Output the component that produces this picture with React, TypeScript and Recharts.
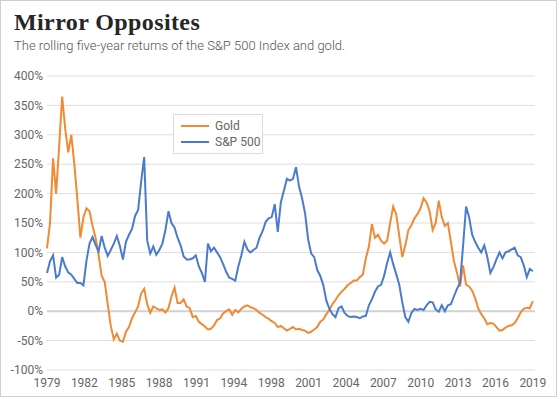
import { LineChart, Line, XAxis, YAxis, CartesianGrid, ReferenceLine } from 'recharts';

// quarterly steps from the 1979 tick to the 2019 tick, rolling 5-yr return in %
const GOLD = [
  107, 150, 260, 200, 280, 365, 310, 270, 300, 250,
  190, 125, 160, 175, 170, 145, 125, 95, 60, 50,
  12, -25, -48, -38, -50, -52, -35, -27, -12, -2,
  8, 30, 38, 12, -3, 8, 5, 2, 3, -2,
  5, 25, 40, 14, 14, 20, 8, 5, -10, -8,
  -18, -22, -26, -31, -30, -24, -15, -12, -4, 0,
  3, -6, 2, -2, 4, 8, 10, 7, 5, 2,
  -3, -6, -10, -13, -17, -20, -27, -25, -29, -33,
  -30, -27, -31, -30, -32, -33, -37, -35, -31, -27,
  -18, -14, -5, 2, 12, 19, 27, 33, 38, 44,
  48, 52, 52, 58, 62, 90, 110, 148, 125, 130,
  120, 115, 120, 150, 178, 165, 128, 92, 112, 138,
  146, 158, 165, 175, 192, 185, 170, 138, 150, 188,
  160, 145, 150, 118, 85, 66, 42, 78, 45, 42,
  35, 22, 5, -5, -12, -22, -20, -21, -27, -33,
  -32, -28, -25, -24, -20, -12, -2, 4, 6, 5,
  17,
];

const SP500 = [
  65, 85, 95, 57, 62, 92, 76, 66, 62, 55,
  48, 48, 44, 86, 115, 126, 113, 102, 128, 108,
  94, 104, 115, 128, 111, 88, 118, 130, 140, 162,
  172, 220, 262, 120, 98, 110, 96, 104, 115, 138,
  170, 150, 142, 125, 112, 93, 88, 88, 90, 95,
  76, 65, 50, 115, 102, 108, 100, 92, 80, 67,
  57, 55, 52, 76, 95, 118, 105, 100, 104, 108,
  125, 136, 152, 158, 160, 182, 135, 185, 205, 225,
  222, 225, 245, 212, 192, 166, 122, 98, 92, 70,
  60, 44, 18, 4, -5, -10, 5, 8, -3, -8,
  -10, -9, -10, -12, -9, -8, 10, 20, 33, 42,
  45, 60, 82, 100, 80, 63, 45, 15, -10, -18,
  -3, 4, 2, 4, 2, 10, 16, 15, 3, -1,
  10, 0, 10, 12, 25, 38, 48, 110, 178, 160,
  130, 118, 108, 100, 112, 92, 65, 75, 88, 100,
  90, 100, 102, 105, 108, 95, 92, 78, 58, 72,
  68,
];

const YEAR_LABELS = ['1979', '1982', '1985', '1988', '1991', '1994', '1998', '2001', '2004', '2007', '2010', '2013', '2016', '2019'];
const Y_TICKS = [-100, -50, 0, 50, 100, 150, 200, 250, 300, 350, 400];

const GOLD_COLOR = '#F08A35';
const SP_COLOR = '#4A7BCD';

const LAST = GOLD.length - 1;
const STEP = LAST / (YEAR_LABELS.length - 1);
const X_TICKS = YEAR_LABELS.map((_, k) => k * STEP);

const data = GOLD.map((g, i) => ({ i, gold: g, sp500: SP500[i] }));

const font = 'Roboto, "Noto Sans", sans-serif';

const App = () => {
  return (
    <div
      style={{
        position: 'absolute',
        left: 0,
        top: 0,
        width: 560,
        height: 399,
        background: '#fff',
        fontFamily: font,
      }}
    >
      <div
        style={{
          position: 'absolute',
          left: 0,
          top: 0,
          width: 557,
          height: 397,
          border: '1px solid #cfcfcf',
          boxSizing: 'border-box',
        }}
      />
      <div
        style={{
          position: 'absolute',
          left: 14,
          top: 10,
          fontFamily: '"Liberation Serif", serif',
          fontWeight: 700,
          fontSize: 24,
          letterSpacing: 0.4,
          lineHeight: '24px',
          color: '#262626',
          whiteSpace: 'nowrap',
        }}
      >
        Mirror Opposites
      </div>
      <div
        style={{
          position: 'absolute',
          left: 14,
          top: 39,
          fontSize: 13,
          lineHeight: '13px',
          fontWeight: 300,
          color: '#555',
          whiteSpace: 'nowrap',
        }}
      >
        The rolling five-year returns of the S&amp;P 500 Index and gold.
      </div>

      <div style={{ position: 'absolute', left: 0, top: 0 }}>
        <LineChart width={560} height={399} data={data} margin={{ top: 76, right: 25, bottom: 0, left: 0 }}>
          <CartesianGrid vertical={false} stroke="#dedede" />
          <ReferenceLine y={0} stroke="#d2d2d2" strokeWidth={2} />
          <XAxis
            type="number"
            dataKey="i"
            domain={[0, LAST + 0.7]}
            ticks={X_TICKS}
            interval={0}
            height={29}
            axisLine={false}
            tickLine={false}
            tick={{ fill: '#666', fontSize: 12, fontFamily: font }}
            tickFormatter={(v: number) => YEAR_LABELS[Math.round(v / STEP)]}
          />
          <YAxis
            domain={[-100, 400]}
            ticks={Y_TICKS}
            width={47}
            axisLine={false}
            tickLine={false}
            tickSize={2}
            tick={{ fill: '#666', fontSize: 12, fontFamily: font }}
            tickFormatter={(v: number) => `${v}%`}
          />
          <Line type="linear" dataKey="gold" stroke={GOLD_COLOR} strokeWidth={2} dot={false} isAnimationActive={false} />
          <Line type="linear" dataKey="sp500" stroke={SP_COLOR} strokeWidth={2} dot={false} isAnimationActive={false} />
        </LineChart>
      </div>

      <div
        style={{
          position: 'absolute',
          left: 173,
          top: 114,
          width: 90,
          height: 40,
          border: '1px solid #dcdcdc',
          boxSizing: 'border-box',
          background: '#fff',
          fontSize: 12,
          color: '#666',
        }}
      >
        {[
          { name: 'Gold', color: GOLD_COLOR, y: 11 },
          { name: 'S&P 500', color: SP_COLOR, y: 27 },
        ].map((item) => (
          <div key={item.name} style={{ position: 'absolute', left: 7, top: item.y - 7, height: 14, display: 'flex', alignItems: 'center' }}>
            <div style={{ width: 28, height: 2, background: item.color }} />
            <span style={{ marginLeft: 6, lineHeight: '14px' }}>{item.name}</span>
          </div>
        ))}
      </div>
    </div>
  );
};

export default App;
